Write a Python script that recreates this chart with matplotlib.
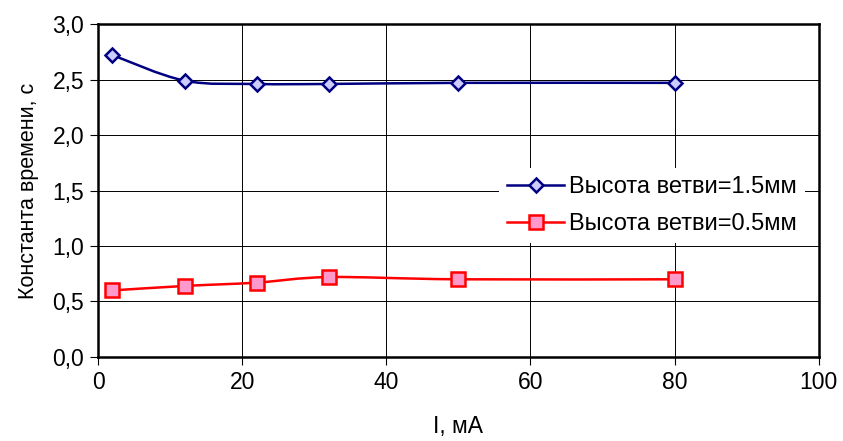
import numpy as np
import matplotlib
matplotlib.use("Agg")
from matplotlib import pyplot as plt
from matplotlib.path import Path
from matplotlib.patches import PathPatch
from matplotlib.lines import Line2D
from matplotlib.ticker import FuncFormatter, MultipleLocator

# данные
current = [2, 12, 22, 32, 50, 80]
tau_15 = [2.72, 2.49, 2.46, 2.46, 2.47, 2.47]
tau_05 = [0.60, 0.64, 0.67, 0.72, 0.70, 0.70]
labels = ["Высота ветви=1.5мм", "Высота ветви=0.5мм"]

plt.rcParams['font.family'] = ['Liberation Sans', 'DejaVu Sans']


def smooth_path(x, y):
    # сглаженная линия как в Excel (Catmull-Rom -> Bezier)
    pts = np.column_stack([x, y]).astype(float)
    n = len(pts)
    verts = [pts[0]]
    codes = [Path.MOVETO]
    for i in range(n - 1):
        p0 = pts[max(i - 1, 0)]
        p1 = pts[i]
        p2 = pts[i + 1]
        p3 = pts[min(i + 2, n - 1)]
        c1 = p1 + (p2 - p0) / 6
        c2 = p2 - (p3 - p1) / 6
        verts += [c1, c2, p2]
        codes += [Path.CURVE4] * 3
    return Path(verts, codes)


fig = plt.figure(figsize=(8.43, 4.41), dpi=100)
ax = fig.add_axes([0.1163, 0.1905, 0.855, 0.755])

blue = "#000080"
red = "#FF0000"

ax.add_patch(PathPatch(smooth_path(current, tau_15), fill=False, edgecolor=blue, lw=1.8, zorder=3))
ax.plot(current, tau_15, ls="none", marker="D", ms=7.5, mfc="#CCCCFF", mec=blue, mew=1.8, zorder=4)
ax.add_patch(PathPatch(smooth_path(current, tau_05), fill=False, edgecolor=red, lw=1.8, zorder=3))
ax.plot(current, tau_05, ls="none", marker="s", ms=9.5, mfc="#FF99CC", mec=red, mew=1.8, zorder=4)

ax.set_xlim(0, 100)
ax.set_ylim(0, 3)
ax.xaxis.set_major_locator(MultipleLocator(20))
ax.yaxis.set_major_locator(MultipleLocator(0.5))
ax.yaxis.set_major_formatter(FuncFormatter(lambda v, p: ("%.1f" % v).replace(".", ",")))
ax.grid(True, color="black", lw=0.7)
ax.set_axisbelow(True)
for s in ax.spines.values():
    s.set_linewidth(1.8)
ax.tick_params(direction="out", length=6, width=0.8, labelsize=16.5, pad=4)

ax.set_xlabel("I, мА", fontsize=16.5, labelpad=15)
ax.set_ylabel("Константа времени, с", fontsize=15.5, labelpad=10)

handles = [
    Line2D([], [], color=blue, lw=1.8, marker="D", ms=7.5, mfc="#CCCCFF", mec=blue, mew=1.8),
    Line2D([], [], color=red, lw=1.8, marker="s", ms=9.5, mfc="#FF99CC", mec=red, mew=1.8),
]
ax.legend(handles, labels, loc="center right", bbox_to_anchor=(0.997, 0.455), frameon=True,
          edgecolor="none", facecolor="white", framealpha=1, fancybox=False, fontsize=17,
          handlelength=2.4, handletextpad=0.2, labelspacing=0.65, borderpad=0.35)

fig.savefig("out.png", dpi=100)
